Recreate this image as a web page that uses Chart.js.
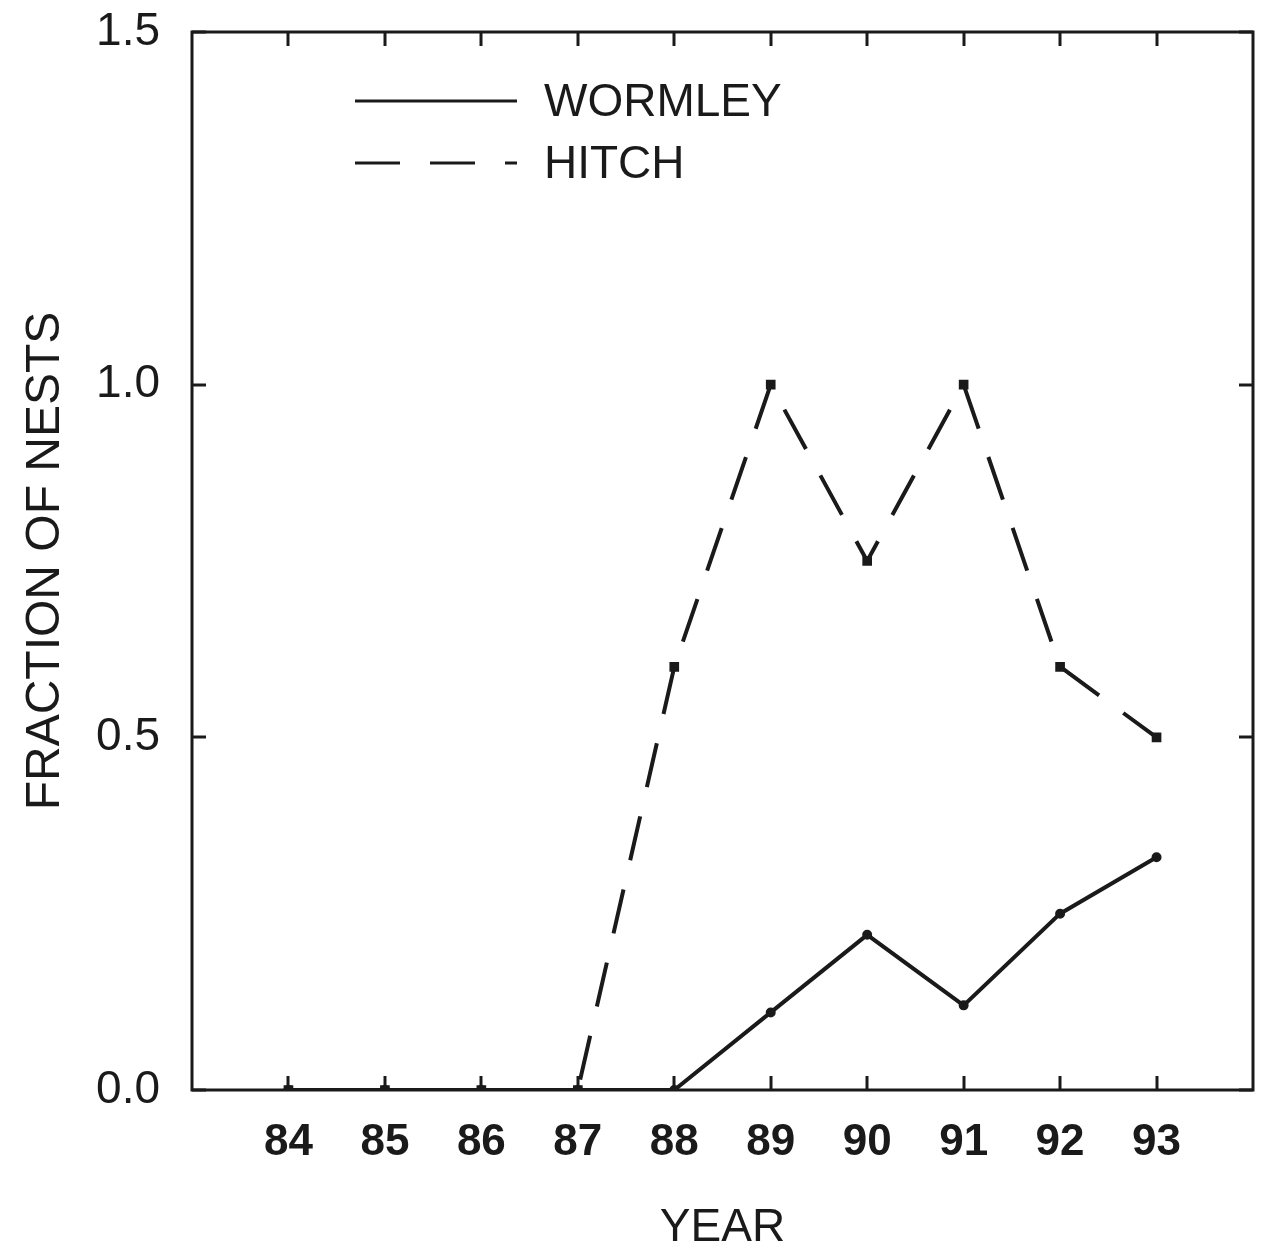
<!DOCTYPE html>
<html>
<head>
<meta charset="utf-8">
<title>Fraction of nests</title>
<script src="https://cdn.jsdelivr.net/npm/chart.js@4.4.1/dist/chart.umd.min.js"></script>
<style>
  html, body { margin: 0; padding: 0; background: #fff; }
  #wrap { width: 1269px; height: 1254px; }
</style>
</head>
<body>
<div id="wrap"><canvas id="nestChart" width="1269" height="1254"></canvas></div>
<script>
// data
const years = [84, 85, 86, 87, 88, 89, 90, 91, 92, 93];
const yearLabels = ['84', '85', '86', '87', '88', '89', '90', '91', '92', '93'];
const wormley = [0, 0, 0, 0, 0, 0.11, 0.22, 0.12, 0.25, 0.33];
const hitch = [0, 0, 0, 0, 0.60, 1.00, 0.75, 1.00, 0.60, 0.50];
const yTicks = [0, 0.5, 1.0, 1.5];

const ink = '#1a1a1a';
const fontName = '"Liberation Sans", Arial, Helvetica, sans-serif';

function toPoints(vals) {
  return years.map((x, i) => ({ x: x, y: vals[i] }));
}

function tick(ctx, x0, y0, x1, y1) {
  ctx.beginPath();
  ctx.moveTo(x0, y0);
  ctx.lineTo(x1, y1);
  ctx.stroke();
}

// frame + ticks pointing inward on all four sides
const frameTicks = {
  id: 'frameTicks',
  afterDraw(chart) {
    const { ctx, chartArea: a, scales } = chart;
    const len = 14;
    ctx.save();
    ctx.setLineDash([]);
    ctx.strokeStyle = ink;
    ctx.lineWidth = 3;
    ctx.lineCap = 'butt';
    ctx.strokeRect(a.left, a.top, a.right - a.left, a.bottom - a.top);
    years.forEach(v => {
      const px = Math.round(scales.x.getPixelForValue(v));
      tick(ctx, px, a.bottom, px, a.bottom - len);
      tick(ctx, px, a.top, px, a.top + len);
    });
    yTicks.forEach(v => {
      const py = Math.round(scales.y.getPixelForValue(v));
      tick(ctx, a.left, py, a.left + len, py);
      tick(ctx, a.right, py, a.right - len, py);
    });
    ctx.restore();
  }
};

// key in the upper left of the plot
const keyBox = {
  id: 'keyBox',
  afterDraw(chart) {
    const { ctx, chartArea: a } = chart;
    const x0 = a.left + 163, x1 = a.left + 325, tx = a.left + 352;
    const rows = [
      { label: 'WORMLEY', y: a.top + 69, dash: [] },
      { label: 'HITCH', y: a.top + 131, dash: [45, 30] }
    ];
    ctx.save();
    ctx.strokeStyle = ink;
    ctx.fillStyle = ink;
    ctx.lineWidth = 3;
    ctx.font = '46px ' + fontName;
    ctx.textBaseline = 'middle';
    rows.forEach(r => {
      ctx.setLineDash(r.dash);
      ctx.beginPath();
      ctx.moveTo(x0, r.y);
      ctx.lineTo(x1, r.y);
      ctx.stroke();
      ctx.fillText(r.label, tx, r.y + 2);
    });
    ctx.restore();
  }
};

const ctx = document.getElementById('nestChart').getContext('2d');
new Chart(ctx, {
  type: 'line',
  data: {
    datasets: [
      {
        label: 'WORMLEY',
        data: toPoints(wormley),
        borderColor: ink,
        backgroundColor: ink,
        borderWidth: 4,
        pointStyle: 'circle',
        pointRadius: 3,
        tension: 0,
        fill: false
      },
      {
        label: 'HITCH',
        data: toPoints(hitch),
        borderColor: ink,
        backgroundColor: ink,
        borderWidth: 4,
        borderDash: [45, 30],
        pointStyle: 'rect',
        pointRadius: 4,
        tension: 0,
        fill: false
      }
    ]
  },
  options: {
    responsive: false,
    animation: false,
    layout: { padding: { top: 32, right: 16, bottom: 0, left: 0 } },
    plugins: {
      legend: { display: false },
      tooltip: { enabled: false }
    },
    scales: {
      x: {
        type: 'linear',
        min: 83,
        max: 94,
        afterBuildTicks: s => { s.ticks = years.map(v => ({ value: v })); },
        afterFit: s => { s.height = 164; s.paddingLeft = 0; s.paddingRight = 0; },
        grid: { display: false },
        border: { display: false },
        ticks: {
          padding: 18,
          color: ink,
          font: { family: fontName, size: 44, weight: 'bold' },
          callback: v => yearLabels[years.indexOf(v)]
        },
        title: {
          display: true,
          text: 'YEAR',
          color: ink,
          font: { family: fontName, size: 46, lineHeight: 1 },
          padding: { top: 0, bottom: 3 }
        }
      },
      y: {
        min: 0,
        max: 1.5,
        afterBuildTicks: s => { s.ticks = yTicks.map(v => ({ value: v })); },
        afterFit: s => { s.width = 192; s.paddingTop = 0; s.paddingBottom = 0; },
        grid: { display: false },
        border: { display: false },
        ticks: {
          padding: 24,
          color: ink,
          font: { family: fontName, size: 46 },
          callback: v => v.toFixed(1)
        },
        title: {
          display: true,
          text: 'FRACTION OF NESTS',
          color: ink,
          font: { family: fontName, size: 48, lineHeight: 1 },
          padding: { top: 22, bottom: 0 }
        }
      }
    }
  },
  plugins: [frameTicks, keyBox]
});
</script>
</body>
</html>
